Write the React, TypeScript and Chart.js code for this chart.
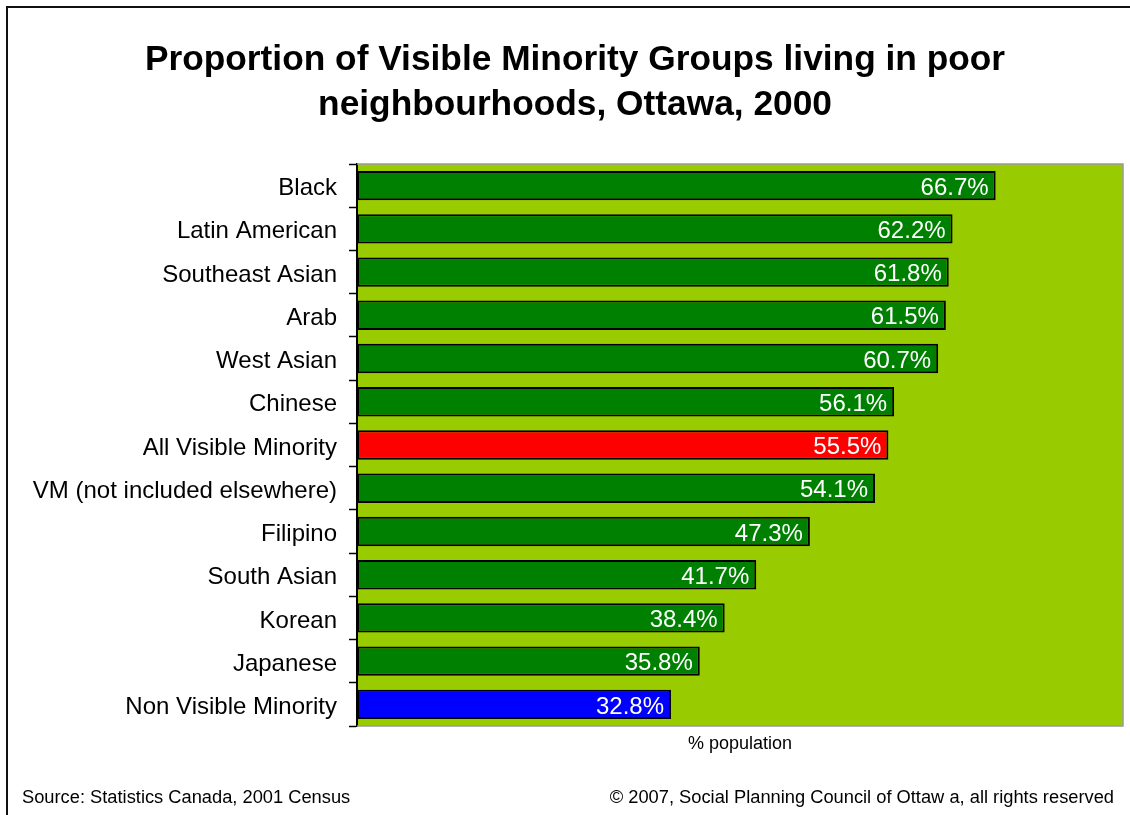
import React, { useEffect, useRef } from "react";
import { Chart, registerables } from "chart.js";

Chart.register(...registerables);

const categories = [
  "Black",
  "Latin American",
  "Southeast Asian",
  "Arab",
  "West Asian",
  "Chinese",
  "All Visible Minority",
  "VM (not included elsewhere)",
  "Filipino",
  "South Asian",
  "Korean",
  "Japanese",
  "Non Visible Minority",
];
const values = [66.7, 62.2, 61.8, 61.5, 60.7, 56.1, 55.5, 54.1, 47.3, 41.7, 38.4, 35.8, 32.8];
const barColors = [
  "#008000", "#008000", "#008000", "#008000", "#008000", "#008000",
  "#FF0000", "#008000", "#008000", "#008000", "#008000", "#008000", "#0000FF",
];
const titleLines = [
  "Proportion of Visible Minority Groups living in poor",
  "neighbourhoods, Ottawa, 2000",
];
const xAxisTitle = "% population";
const sourceText = "Source: Statistics Canada, 2001 Census";
const copyrightText = "© 2007, Social Planning Council of Ottaw a, all rights reserved";
const xMax = 80;

const FONT = '"Liberation Sans", Arial, sans-serif';

const decorPlugin = {
  id: "decor",
  beforeDraw(chart: any) {
    const { ctx, chartArea } = chart;
    ctx.save();
    ctx.fillStyle = "#ffffff";
    ctx.fillRect(0, 0, chart.width, chart.height);
    ctx.fillStyle = "#99CC00";
    ctx.fillRect(chartArea.left, chartArea.top, chartArea.right - chartArea.left, chartArea.bottom - chartArea.top);
    ctx.restore();
  },
  afterDatasetsDraw(chart: any) {
    const { ctx } = chart;
    const meta = chart.getDatasetMeta(0);
    ctx.save();
    ctx.font = `24px ${FONT}`;
    ctx.fillStyle = "#ffffff";
    ctx.textAlign = "right";
    ctx.textBaseline = "middle";
    meta.data.forEach((el: any, i: number) => {
      ctx.fillText(values[i].toFixed(1) + "%", el.x - 7, el.y + 2.5);
    });
    ctx.restore();
  },
  afterDraw(chart: any) {
    const { ctx, chartArea } = chart;
    ctx.save();
    // plot area gray border (top, right, bottom)
    ctx.strokeStyle = "#999999";
    ctx.lineWidth = 1.5;
    ctx.beginPath();
    ctx.moveTo(chartArea.left, chartArea.top);
    ctx.lineTo(chartArea.right, chartArea.top);
    ctx.lineTo(chartArea.right, chartArea.bottom);
    ctx.lineTo(chartArea.left, chartArea.bottom);
    ctx.stroke();
    // outer frame
    ctx.strokeStyle = "#111111";
    ctx.lineWidth = 2;
    ctx.beginPath();
    ctx.moveTo(7, chart.height);
    ctx.lineTo(7, 7);
    ctx.lineTo(chart.width, 7);
    ctx.stroke();
    // title
    ctx.fillStyle = "#000000";
    ctx.font = `bold 35.3px ${FONT}`;
    ctx.textAlign = "center";
    ctx.textBaseline = "alphabetic";
    ctx.fillText(titleLines[0], 575, 70);
    ctx.fillText(titleLines[1], 575, 115);
    // x axis title
    ctx.font = `18px ${FONT}`;
    ctx.fillText(xAxisTitle, (chartArea.left + chartArea.right) / 2, 749);
    // footer
    ctx.font = `18.3px ${FONT}`;
    ctx.textAlign = "left";
    ctx.fillText(sourceText, 22, 803);
    ctx.textAlign = "right";
    ctx.fillText(copyrightText, 1114, 803);
    ctx.restore();
  },
};

export default function App() {
  const ref = useRef<HTMLCanvasElement>(null);
  useEffect(() => {
    if (!ref.current) return;
    const chart = new Chart(ref.current, {
      type: "bar",
      data: {
        labels: categories,
        datasets: [
          {
            data: values,
            backgroundColor: barColors,
            borderColor: "#000000",
            borderWidth: 2,
            borderSkipped: false,
            barPercentage: 0.68,
            categoryPercentage: 1,
          },
        ],
      },
      options: {
        indexAxis: "y",
        responsive: false,
        animation: false,
        devicePixelRatio: 1,
        layout: { padding: { top: 164, right: 7, bottom: 89, left: 0 } },
        plugins: {
          legend: { display: false },
          title: { display: false },
          tooltip: { enabled: false },
        },
        scales: {
          x: {
            display: false,
            min: 0,
            max: xMax,
          },
          y: {
            afterFit(scale: any) {
              scale.width = 357;
            },
            grid: {
              display: true,
              drawOnChartArea: false,
              drawTicks: true,
              tickLength: 8,
              tickColor: "#000000",
              tickWidth: 1.5,
              offset: true,
            },
            border: { display: true, color: "#000000", width: 2 },
            ticks: {
              color: "#000000",
              padding: 12,
              labelOffset: 3,
              font: { family: FONT, size: 24 },
            },
          },
        },
      },
      plugins: [decorPlugin],
    });
    return () => chart.destroy();
  }, []);
  return (
    <canvas
      ref={ref}
      width={1130}
      height={815}
      style={{ position: "absolute", left: 0, top: 0, width: 1130, height: 815 }}
    />
  );
}
